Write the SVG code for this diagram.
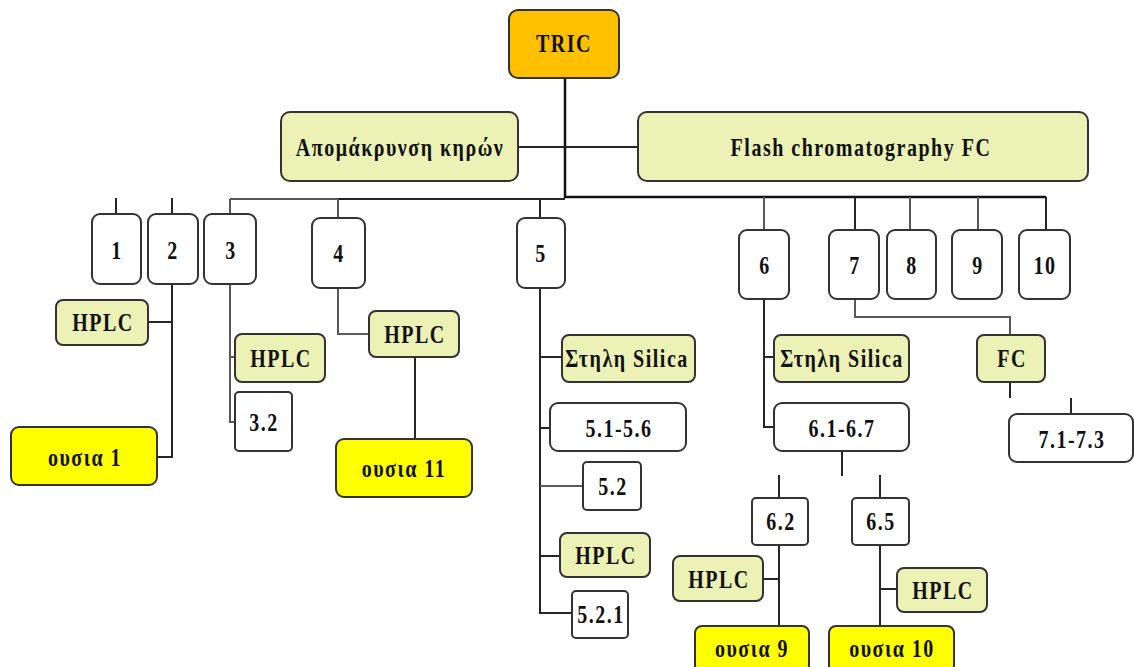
<svg xmlns="http://www.w3.org/2000/svg" width="1134" height="667" viewBox="0 0 1134 667">
  <style>
    .box { stroke: #333; stroke-width: 2; }
    .plain { fill: #ffffff; }
    .root { fill: #ffc000; }
    .step { fill: #ecf1b6; }
    .result { fill: #ffff00; }
    .wire { fill: none; stroke: #262626; stroke-width: 2; }
    .wire.light { stroke: #5a5a5a; }
    .wire.bus { stroke-width: 2.5; stroke: #111; }
    text { font-family: "Liberation Serif", "DejaVu Serif", serif; font-weight: bold; font-size: 20px; letter-spacing: 1.5px; text-anchor: middle; fill: #111;
           transform-box: fill-box; transform-origin: center; transform: scaleY(1.3); }
  </style>
  <rect width="1134" height="667" fill="#ffffff"/>

  <g id="connectors">
    <!-- trunk from TRIC and the two buses -->
    <path class="wire bus" d="M565 78 V198 M565 197 H1046"/>
    <path class="wire" d="M518 147 H638"/>
    <path class="wire" d="M338 199 H565"/>
    <path class="wire light" d="M230 199 H338"/>
    <!-- drops to the fractions -->
    <path class="wire" d="M116 198 V214 M172 198 V214"/>
    <path class="wire light" d="M230 199 V214"/>
    <path class="wire light" d="M338 199 V218"/>
    <path class="wire" d="M540 199 V218"/>
    <path class="wire light" d="M764 197 V230"/>
    <path class="wire" d="M855 197 V230"/>
    <path class="wire light" d="M910 197 V230 M978 197 V230"/>
    <path class="wire" d="M1046 197 V230"/>
    <!-- fraction 2 -->
    <path class="wire" d="M172 284 V457 H157 M148 322 H172"/>
    <!-- fraction 3 -->
    <path class="wire light" d="M230 284 V422 H235 M230 357 H235"/>
    <!-- fraction 4 -->
    <path class="wire light" d="M338 288 V334 H369"/>
    <path class="wire" d="M415 357 V439"/>
    <!-- fraction 5 -->
    <path class="wire" d="M540 288 V613 H572 M540 357 H562 M540 428 H550 M540 556 H560"/>
    <path class="wire light" d="M540 486 H583"/>
    <!-- fraction 6 -->
    <path class="wire" d="M764 299 V427 H774 M764 357 H774"/>
    <path class="wire" d="M842 451 V476"/>
    <path class="wire" d="M779 475 V498 M880 475 V498"/>
    <path class="wire" d="M779 545 V626 M763 579 H779"/>
    <path class="wire" d="M880 545 V626 M880 589 H897"/>
    <!-- fraction 7 -->
    <path class="wire light" d="M855 299 V317 H1010 V336"/>
    <path class="wire" d="M1010 382 V398 M1071 398 V414"/>
  </g>

  <g id="tric"><rect class="box root" x="509" y="10" width="110" height="68" rx="9"/><text x="564" y="50">TRIC</text></g>
  <g id="wax-removal"><rect class="box step" x="281" y="112" width="237" height="69" rx="9"/><text x="400" y="154">Απομάκρυνση κηρών</text></g>
  <g id="flash-fc"><rect class="box step" x="638" y="112" width="450" height="69" rx="9"/><text x="861" y="154">Flash chromatography FC</text></g>

  <g id="f1"><rect class="box plain" x="92" y="214" width="49" height="70" rx="8"/><text x="117" y="257">1</text></g>
  <g id="f2"><rect class="box plain" x="148" y="214" width="50" height="70" rx="8"/><text x="173" y="257">2</text></g>
  <g id="f3"><rect class="box plain" x="204" y="214" width="52" height="70" rx="8"/><text x="231" y="257">3</text></g>
  <g id="f4"><rect class="box plain" x="312" y="218" width="53" height="70" rx="8"/><text x="339" y="260">4</text></g>
  <g id="f5"><rect class="box plain" x="517" y="218" width="48" height="70" rx="8"/><text x="541" y="260">5</text></g>
  <g id="f6"><rect class="box plain" x="739" y="230" width="50" height="69" rx="8"/><text x="765" y="272">6</text></g>
  <g id="f7"><rect class="box plain" x="829" y="230" width="50" height="69" rx="8"/><text x="855" y="272">7</text></g>
  <g id="f8"><rect class="box plain" x="887" y="230" width="49" height="69" rx="8"/><text x="912" y="272">8</text></g>
  <g id="f9"><rect class="box plain" x="952" y="230" width="50" height="69" rx="8"/><text x="978" y="272">9</text></g>
  <g id="f10"><rect class="box plain" x="1019" y="230" width="51" height="69" rx="8"/><text x="1045" y="272">10</text></g>

  <g id="hplc-2"><rect class="box step" x="56" y="300" width="92" height="45" rx="7"/><text x="103" y="329">HPLC</text></g>
  <g id="ousia-1"><rect class="box result" x="11" y="427" width="146" height="58" rx="8"/><text x="85" y="464">ουσια 1</text></g>

  <g id="hplc-3"><rect class="box step" x="235" y="334" width="90" height="48" rx="7"/><text x="281" y="365">HPLC</text></g>
  <g id="f3-2"><rect class="box plain" x="235" y="392" width="57" height="59" rx="4"/><text x="264" y="429">3.2</text></g>

  <g id="hplc-4"><rect class="box step" x="369" y="311" width="90" height="46" rx="7"/><text x="415" y="341">HPLC</text></g>
  <g id="ousia-11"><rect class="box result" x="336" y="439" width="136" height="58" rx="8"/><text x="404" y="475">ουσια 11</text></g>

  <g id="silica-5"><rect class="box step" x="562" y="335" width="133" height="47" rx="7"/><text x="627" y="365">Στηλη Silica</text></g>
  <g id="f5-1-6"><rect class="box plain" x="550" y="403" width="136" height="48" rx="8"/><text x="619" y="435">5.1-5.6</text></g>
  <g id="f5-2"><rect class="box plain" x="583" y="462" width="58" height="48" rx="4"/><text x="613" y="493">5.2</text></g>
  <g id="hplc-5"><rect class="box step" x="560" y="533" width="90" height="44" rx="7"/><text x="606" y="562">HPLC</text></g>
  <g id="f5-2-1"><rect class="box plain" x="572" y="591" width="56" height="47" rx="4"/><text x="601" y="621">5.2.1</text></g>

  <g id="silica-6"><rect class="box step" x="774" y="335" width="135" height="47" rx="7"/><text x="842" y="365">Στηλη Silica</text></g>
  <g id="f6-1-7"><rect class="box plain" x="774" y="403" width="135" height="48" rx="8"/><text x="842" y="435">6.1-6.7</text></g>
  <g id="f6-2"><rect class="box plain" x="752" y="498" width="56" height="47" rx="4"/><text x="781" y="528">6.2</text></g>
  <g id="f6-5"><rect class="box plain" x="852" y="498" width="57" height="47" rx="4"/><text x="881" y="528">6.5</text></g>
  <g id="hplc-6-2"><rect class="box step" x="673" y="556" width="90" height="45" rx="7"/><text x="719" y="586">HPLC</text></g>
  <g id="hplc-6-5"><rect class="box step" x="897" y="568" width="90" height="44" rx="7"/><text x="943" y="597">HPLC</text></g>
  <g id="ousia-9"><rect class="box result" x="695" y="626" width="114" height="46" rx="7"/><text x="752" y="655">ουσια 9</text></g>
  <g id="ousia-10"><rect class="box result" x="829" y="626" width="125" height="46" rx="7"/><text x="892" y="655">ουσια 10</text></g>

  <g id="fc-7"><rect class="box step" x="977" y="335" width="68" height="47" rx="7"/><text x="1012" y="365">FC</text></g>
  <g id="f7-1-3"><rect class="box plain" x="1009" y="414" width="124" height="48" rx="8"/><text x="1072" y="446">7.1-7.3</text></g>
</svg>
